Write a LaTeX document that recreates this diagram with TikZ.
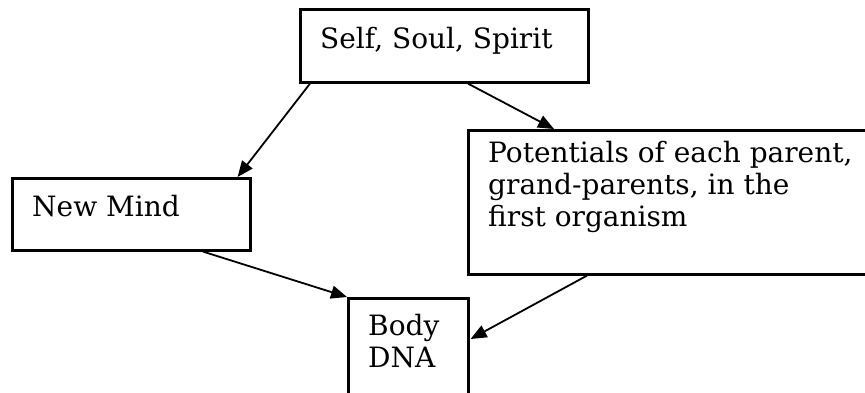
\documentclass[tikz,border=0pt]{standalone}
\usepackage{fontspec}
\setmainfont{DejaVu Serif}
\usetikzlibrary{arrows.meta,calc}
\tikzset{
  box/.style={draw=black, line width=2.6pt, rectangle, inner sep=0pt, anchor=north west},
  txt/.style={inner sep=0pt, anchor=base west, align=left, font=\fontsize{28}{32}\selectfont},
  conn/.style={line width=1.8pt, -{Triangle[length=16pt,width=13pt]}, shorten >=0pt}
}
\begin{document}
\begin{tikzpicture}[x=1pt,y=-1pt]
\useasboundingbox (0,0) rectangle (865,392);
\clip (0,0) rectangle (865,392);
\node[box, minimum width=288pt, minimum height=73pt] (self) at (299,8) {};
\node[box, minimum width=238pt, minimum height=72pt] (mind) at (11,177) {};
\node[box, minimum width=405pt, minimum height=144pt] (pot) at (467,129) {};
\node[box, minimum width=120pt, minimum height=100pt] (body) at (347,297) {};
\node[txt] (selft) at ($(self.north west)+(21,40)$) {Self, Soul, Spirit};
\node[txt] (mindt) at ($(mind.north west)+(21,39)$) {New Mind};
\node[txt] (pott) at ($(pot.north west)+(21,97)$) {Potentials of each parent,\\grand-parents, in the\\first organism};
\node[txt] (bodyt) at ($(body.north west)+(21,70)$) {Body\\DNA};
\draw[conn] ($(self.south west)+(11,0)$) -- ($(mind.north east)+(-14,0)$);
\draw[conn] ($(self.south west)+(169,0)$) -- ($(pot.north west)+(87,0)$);
\draw[conn] ($(mind.south west)+(192,0)$) -- (body.north west);
\draw[conn] ($(pot.south west)+(120,0)$) -- ($(body.north east)+(1,42)$);
\end{tikzpicture}
\end{document}
